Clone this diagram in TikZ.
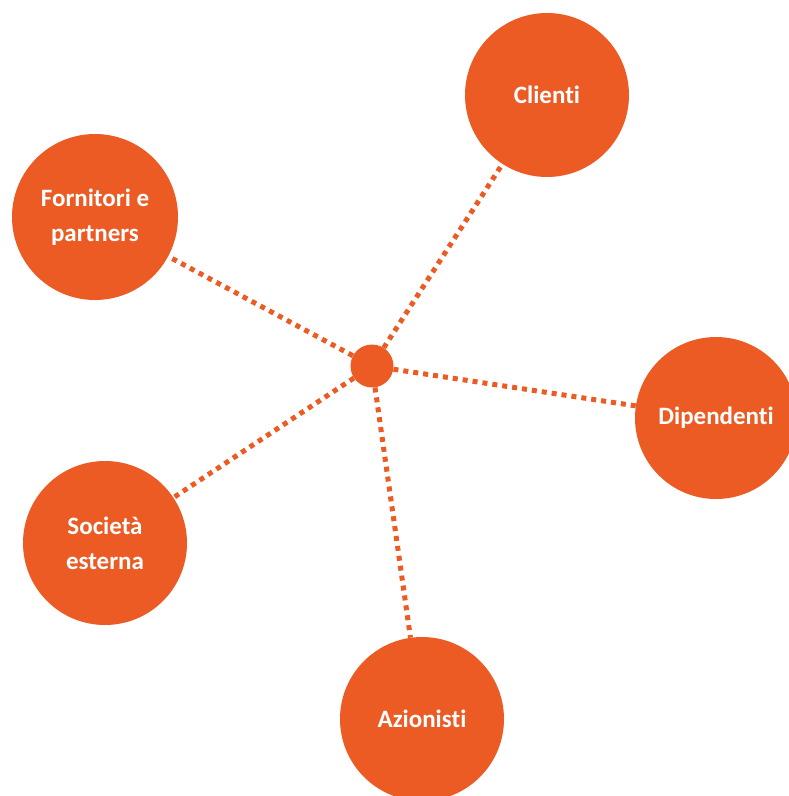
\documentclass[tikz,border=0pt]{standalone}
\usepackage{fontspec}
\setmainfont{Carlito}[Ligatures=NoCommon]
\definecolor{org}{RGB}{235,91,35}
\begin{document}
\begin{tikzpicture}[x=1pt,y=-1pt,
  bub/.style={circle,fill=org,draw=none,inner sep=0pt,text=white,
    font=\fontsize{25}{35}\selectfont\bfseries,align=center},
  link/.style={draw=org,line width=5pt,dash pattern=on 5pt off 5pt}]
\useasboundingbox (0,0) rectangle (789,796);
\clip (0,0) rectangle (789,796);
\node[bub,minimum size=43pt] (hub) at (372,366) {};
\node[bub,minimum size=164pt] (cli) at (547,95) {Clienti};
\node[bub,minimum size=166pt] (for) at (95,217) {Fornitori e\\partners};
\node[bub,minimum size=162pt] (dip) at (716,418) {Dipendenti};
\node[bub,minimum size=164pt] (soc) at (105,543) {Società\\esterna};
\node[bub,minimum size=164pt] (azi) at (422,719) {Azionisti};
\foreach \t in {cli,for,dip,soc,azi}{\draw[link] (hub) -- (\t);}
\end{tikzpicture}
\end{document}
